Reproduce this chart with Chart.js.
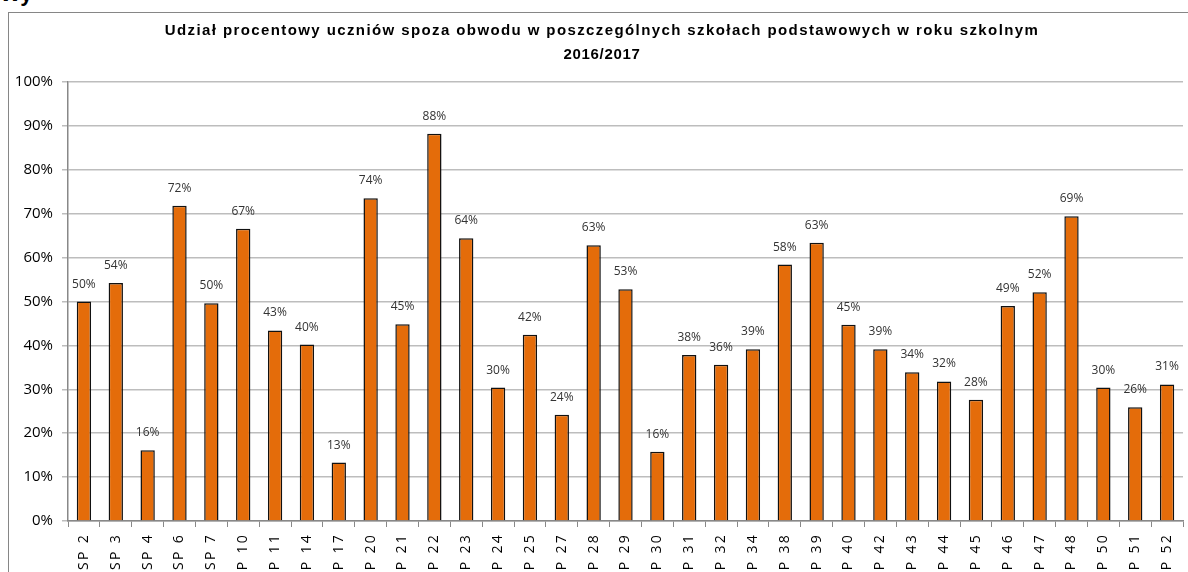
<!DOCTYPE html>
<html>
<head>
<meta charset="utf-8">
<script src="https://cdn.jsdelivr.net/npm/chart.js@4/dist/chart.umd.min.js"></script>
<style>
  html, body { margin: 0; padding: 0; background: #fff; overflow: hidden; }
  #head { position: absolute; left: 0; top: -19px; font: bold 22px "Liberation Sans", Arial, sans-serif; color: #000; }
  #frame { position: absolute; left: 8px; top: 12px; width: 1250px; height: 700px; border: 1px solid #868686; }
  #wrap { position: absolute; left: 0; top: 0; width: 1200px; height: 600px; }
</style>
</head>
<body>
<div id="head">Wy</div>
<div id="frame">
  <div id="wrap"><canvas id="myChart"></canvas></div>
</div>
<script>
const schools = ['SP 2', 'SP 3', 'SP 4', 'SP 6', 'SP 7', 'SP 10', 'SP 11', 'SP 14', 'SP 17', 'SP 20',
  'SP 21', 'SP 22', 'SP 23', 'SP 24', 'SP 25', 'SP 27', 'SP 28', 'SP 29', 'SP 30', 'SP 31',
  'SP 32', 'SP 34', 'SP 38', 'SP 39', 'SP 40', 'SP 42', 'SP 43', 'SP 44', 'SP 45', 'SP 46',
  'SP 47', 'SP 48', 'SP 50', 'SP 51', 'SP 52'];
const shares = [50.0, 54.2, 16.1, 71.8, 49.6, 66.6, 43.4, 40.2, 13.3, 73.5,
  44.8, 88.2, 64.4, 30.4, 42.4, 24.2, 62.8, 52.8, 15.8, 37.8,
  35.6, 39.1, 58.4, 63.4, 44.7, 39.1, 33.9, 31.8, 27.6, 49.0,
  52.1, 69.4, 30.4, 25.9, 31.1];
const titleLines = ['Udział procentowy uczniów spoza obwodu w poszczególnych szkołach podstawowych w roku szkolnym', '2016/2017'];

// tytuł wykresu (z rozstrzelonymi literami jak w Excelu)
const chartTitle = {
  id: 'chartTitle',
  afterDraw(chart) {
    const ctx = chart.ctx;
    ctx.save();
    ctx.font = 'bold 15px "Liberation Sans", Arial, sans-serif';
    ctx.fillStyle = '#000';
    ctx.textAlign = 'center';
    ctx.textBaseline = 'middle';
    ctx.letterSpacing = '1.4px';
    ctx.fillText(titleLines[0], 593, 18);
    ctx.letterSpacing = '0.7px';
    ctx.fillText(titleLines[1], 593, 42);
    ctx.restore();
  }
};

// etykiety wartości nad słupkami
const valueLabels = {
  id: 'valueLabels',
  afterDatasetsDraw(chart) {
    const ctx = chart.ctx;
    const meta = chart.getDatasetMeta(0);
    ctx.save();
    ctx.font = '12px "Open Sans", sans-serif';
    ctx.fillStyle = '#333';
    ctx.textAlign = 'center';
    ctx.textBaseline = 'alphabetic';
    meta.data.forEach((bar, i) => {
      ctx.fillText(Math.round(shares[i]) + '%', bar.x, bar.y - 14);
    });
    ctx.restore();
  }
};

// rozstrzelone etykiety osi X
const spacedXLabels = {
  id: 'spacedXLabels',
  afterUpdate(chart) {
    const sx = chart.scales.x;
    if (sx._spaced) return;
    const orig = sx.drawLabels;
    sx.drawLabels = function(area) {
      chart.ctx.save();
      chart.ctx.letterSpacing = '2.3px';
      orig.call(this, area);
      chart.ctx.restore();
    };
    sx._spaced = true;
  }
};

const config = {
  type: 'bar',
  data: {
    labels: schools,
    datasets: [{
      data: shares,
      backgroundColor: '#E46C0A',
      borderColor: '#111',
      borderWidth: 1.5,
      barPercentage: 0.45,
      categoryPercentage: 1
    }]
  },
  options: {
    responsive: true,
    maintainAspectRatio: false,
    animation: false,
    layout: { padding: { left: 0, right: 26, top: 69, bottom: 0 } },
    plugins: {
      legend: { display: false },
      tooltip: { enabled: false },
      title: { display: false }
    },
    scales: {
      y: {
        min: 0,
        max: 100,
        afterFit(scale) { scale.width = 59; },
        ticks: {
          stepSize: 10,
          padding: 9,
          color: '#000',
          font: { family: '"Open Sans", sans-serif', size: 15 },
          callback: (v) => v + '%'
        },
        grid: { color: '#bdbdbd', lineWidth: 1.5, tickLength: 6 },
        border: { color: '#888', width: 1.5 }
      },
      x: {
        afterFit(scale) { scale.height = 92; },
        ticks: {
          minRotation: 90,
          maxRotation: 90,
          autoSkip: false,
          padding: 6,
          color: '#000',
          font: { family: '"Open Sans", sans-serif', size: 14 }
        },
        grid: { drawOnChartArea: false, drawTicks: true, tickLength: 6, color: '#888', offset: true },
        border: { color: '#888', width: 1.5 }
      }
    }
  },
  plugins: [valueLabels, chartTitle, spacedXLabels]
};

window.chart = new Chart(document.getElementById('myChart'), config);
</script>
</body>
</html>
